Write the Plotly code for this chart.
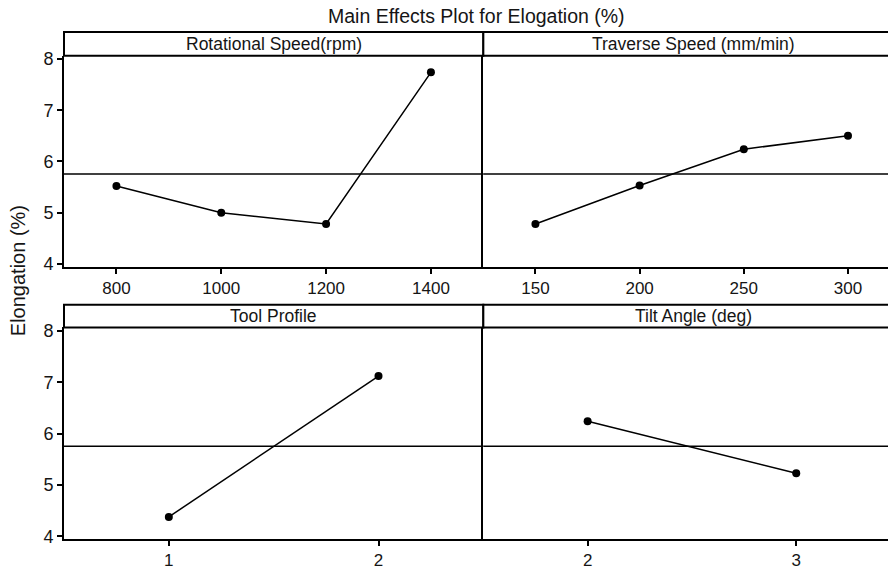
import plotly.graph_objects as go

# ---- data ----
rot_speed = [800, 1000, 1200, 1400]
rot_elong = [5.52, 5.00, 4.78, 7.74]
trav_speed = [150, 200, 250, 300]
trav_elong = [4.78, 5.53, 6.24, 6.50]
tool_profile = [1, 2]
tool_elong = [4.38, 7.12]
tilt_angle = [2, 3]
tilt_elong = [6.24, 5.23]
grand_mean = 5.755

panel_titles = ["Rotational Speed(rpm)", "Traverse Speed (mm/min)", "Tool Profile", "Tilt Angle (deg)"]
y_ticks = [4, 5, 6, 7, 8]
x_ticks = [rot_speed, trav_speed, tool_profile, tilt_angle]
x_ranges = [[700, 1500], [125, 319.2], [0.5, 2.5], [1.5, 3.44]]

W, H = 888, 570
ML, MR, MT, MB = 64, 0, 32, 25
PH = H - MT - MB

xdom = [[0, 0.5089], [0.5089, 1], [0, 0.5089], [0.5089, 1]]
ydom_top = [0.5374, 0.9532]
ydom_bot = [0.0, 0.4172]
ydom = [ydom_top, ydom_top, ydom_bot, ydom_bot]
hdr = [[0.9532, 1.0], [0.9532, 1.0], [0.4172, 0.4620], [0.4172, 0.4620]]
y_range = [3.95, 8.064]

font_main = "Liberation Sans, Arial, sans-serif"
txt = "#151515"

fig = go.Figure()
series = [(rot_speed, rot_elong), (trav_speed, trav_elong), (tool_profile, tool_elong), (tilt_angle, tilt_elong)]
for i, (xs, ys) in enumerate(series):
    sfx = "" if i == 0 else str(i + 1)
    fig.add_trace(go.Scatter(
        x=xs, y=ys, mode="lines+markers", xaxis="x" + sfx, yaxis="y" + sfx,
        line=dict(color="black", width=1.5),
        marker=dict(color="black", size=8),
        showlegend=False, hoverinfo="x+y",
    ))

layout = dict(
    width=W, height=H,
    margin=dict(l=ML, r=MR, t=MT, b=MB),
    paper_bgcolor="white", plot_bgcolor="white",
    font=dict(family=font_main, color=txt),
    showlegend=False,
)
shapes = []
annotations = []
for i in range(4):
    sfx = "" if i == 0 else str(i + 1)
    left = i in (0, 2)
    layout["xaxis" + sfx] = dict(
        domain=xdom[i], range=x_ranges[i], anchor="y" + sfx,
        tickmode="array", tickvals=x_ticks[i], ticktext=[str(v) for v in x_ticks[i]],
        ticks="outside", ticklen=5, tickwidth=1.5, tickcolor="black",
        showline=True, linecolor="black", linewidth=2, mirror=False,
        showgrid=False, zeroline=False,
        tickfont=dict(size=17, family=font_main, color=txt),
    )
    layout["yaxis" + sfx] = dict(
        domain=ydom[i], range=y_range, anchor="x" + sfx,
        tickmode="array", tickvals=y_ticks if left else [],
        ticktext=[str(v) for v in y_ticks] if left else [],
        showticklabels=left,
        ticks="outside" if left else "", ticklen=5, tickwidth=1.5, tickcolor="black",
        showline=True, linecolor="black", linewidth=2, mirror=False,
        showgrid=False, zeroline=False,
        tickfont=dict(size=18, family=font_main, color=txt),
    )
    # grand mean reference line
    shapes.append(dict(type="line", xref="x" + sfx + " domain", yref="y" + sfx,
                       x0=0, x1=1, y0=grand_mean, y1=grand_mean,
                       line=dict(color="black", width=1.5)))
    # header strip
    x1 = xdom[i][1] + (0.02 if not left else 0)
    shapes.append(dict(type="rect", xref="paper", yref="paper",
                       x0=xdom[i][0], x1=x1, y0=hdr[i][0], y1=hdr[i][1],
                       line=dict(color="black", width=2), fillcolor="white", layer="below"))
    annotations.append(dict(text=panel_titles[i], xref="paper", yref="paper",
                            x=(xdom[i][0] + xdom[i][1]) / 2 if left else xdom[i][0] + 0.5089 / 2,
                            y=(hdr[i][0] + hdr[i][1]) / 2,
                            xanchor="center", yanchor="middle", showarrow=False,
                            font=dict(size=17.5, family=font_main, color=txt)))

annotations.append(dict(text="Main Effects Plot for Elogation (%)", xref="paper", yref="paper",
                        x=0.5, y=1 + 16 / PH, xanchor="center", yanchor="middle", showarrow=False,
                        font=dict(size=19.5, family=font_main, color=txt)))
annotations.append(dict(text="Elongation (%)", xref="paper", yref="paper",
                        x=(18 - ML) / (W - ML - MR), y=(545 - 274) / PH, textangle=-90,
                        xanchor="center", yanchor="middle", showarrow=False,
                        font=dict(size=20, family=font_main, color=txt)))

layout["shapes"] = shapes
layout["annotations"] = annotations
fig.update_layout(**layout)
fig.write_html("out.html")
